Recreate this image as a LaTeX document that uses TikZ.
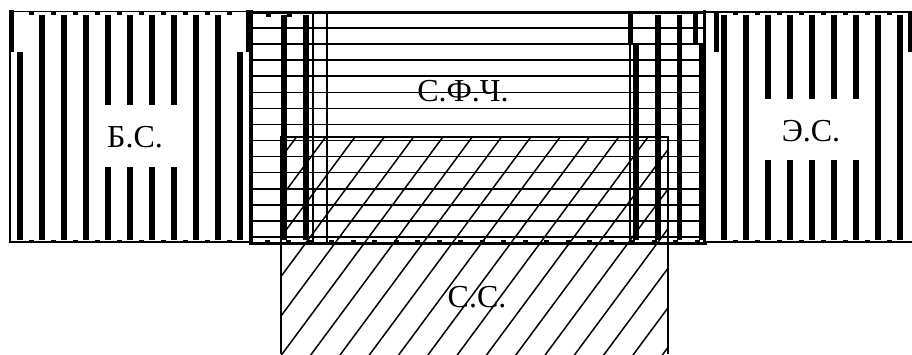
\documentclass[tikz,border=0pt]{standalone}
\usepackage{fontspec}
\setmainfont{Liberation Serif}
\begin{document}
\begin{tikzpicture}[x=1pt,y=-1pt,
  bar/.style={fill=black,draw=none},
  thinln/.style={line width=1.2pt},
  hline/.style={line width=1.8pt},
  hatchline/.style={line width=1.5pt},
  lbl/.style={font=\fontsize{32}{32}\selectfont, inner sep=0pt, anchor=base}
]
\useasboundingbox[fill=white] (0,0) rectangle (912,354);

% ---- middle region (С.Ф.Ч.): horizontal lines
\foreach \k in {0,...,13} \draw[hline] (253,{28.3+16.03*\k}) -- (703,{28.3+16.03*\k});

% ---- С.С. region: diagonal hatch
\begin{scope}
  \clip (281,137) rectangle (668,354);
  \foreach \k in {-3,...,17} \draw[hatchline] ({355+29.3*\k},137) -- ++(-200,270);
\end{scope}
\draw[thinln] (281,354) -- (281,137) -- (668,137) -- (668,354);

% ---- left box (Б.С.)
\foreach \x in {39,61,83,193,215} \fill[bar] (\x,15) rectangle ++(6,225);
\foreach \x in {105,127,149,171} {
  \fill[bar] (\x,15) rectangle (\x+6,105);
  \fill[bar] (\x,167) rectangle (\x+6,240);
}
\fill[bar] (17,52) rectangle (23,240);
\fill[bar] (237,52) rectangle (243,240);
\fill[bar] (9,10) rectangle (14,52);
\fill[bar] (246,10) rectangle (253,52);
\draw[thinln] (10,52) -- (10,242);
\draw[thinln] (10,11.5) -- (250,11.5);
\draw[line width=2pt] (9,242) -- (250,242);
\foreach \c in {31,53,...,229} {
  \fill[bar] (\c-2.5,11) rectangle (\c+2.5,15);
  \fill[bar] (\c-2.5,239.5) rectangle (\c+2.5,242);
}

% ---- right box (Э.С.)
\foreach \x in {721,743,875,897} \fill[bar] (\x,15) rectangle ++(6,225);
\foreach \x in {765,787,809,831,853} {
  \fill[bar] (\x,15) rectangle (\x+6,99);
  \fill[bar] (\x,160) rectangle (\x+6,240);
}
\fill[bar] (714,12) rectangle (719,52);
\fill[bar] (908,12) rectangle (912,52);
\draw[thinln] (705,12) -- (912,12);
\draw[line width=2pt] (705,242) -- (912,242);
\foreach \c in {735,757,...,889} {
  \fill[bar] (\c-2.5,11) rectangle (\c+2.5,15);
  \fill[bar] (\c-2.5,239.5) rectangle (\c+2.5,242);
}

% ---- middle region bars and borders
\fill[bar] (281,15) rectangle (287,240);
\fill[bar] (303,15) rectangle (309,240);
\draw[thinln] (313,12) -- (313,242);
\draw[thinln] (327,12) -- (327,242);
\fill[bar] (628,13) rectangle (633,45);
\draw[thinln] (630,45) -- (630,242);
\fill[bar] (633,45) rectangle (639,240);
\fill[bar] (655,15) rectangle (661,240);
\fill[bar] (677,15) rectangle (682,240);
\fill[bar] (693,13) rectangle (698,45);
\fill[bar] (699,45) rectangle (705,240);
\fill[bar] (249,10) rectangle (253,245);
\fill[bar] (703,10) rectangle (706,243);
\draw[line width=3.5pt] (250,12.5) -- (705,12.5);
\draw[line width=3.5pt] (250,243.3) -- (707,243.3);
\fill[bar] (266,14) rectangle (271,16.5);
\fill[bar] (287,14) rectangle (292,16.5);
\foreach \c in {267,288.5,...,700} \fill[bar] (\c-2.5,239.5) rectangle (\c+2.5,242);

% ---- labels
\node[lbl] (bs) at (135,147) {Б.С.};
\node[lbl] (es) at (811,141) {Э.С.};
\node[lbl] (sfch) at (463,101.5) {С.Ф.Ч.};
\node[lbl] (ss) at (477,307) {С.С.};
\end{tikzpicture}
\end{document}
